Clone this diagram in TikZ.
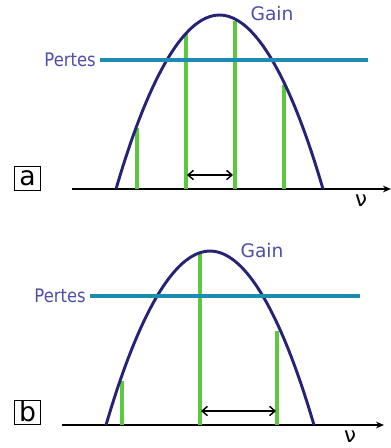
\documentclass[tikz,border=0pt]{standalone}
\usepackage{fontspec}
\setmainfont{DejaVu Sans}
\usetikzlibrary{arrows.meta,positioning}
\definecolor{gaincol}{RGB}{38,34,118}
\definecolor{pertecol}{RGB}{28,140,178}
\definecolor{modecol}{RGB}{92,200,62}
\definecolor{labcol}{RGB}{78,78,172}
\tikzset{
  gain/.style={
    line width=2.2pt,
    draw=gaincol
  },
  pertes/.style={
    line width=3pt,
    draw=pertecol
  },
  mode/.style={
    line width=2.4pt,
    draw=modecol
  },
  axe/.style={
    line width=1.1pt,
    -{Stealth[length=6pt,width=5pt]}
  },
  ecart/.style={
    line width=1.1pt,
    {Straight Barb[length=4pt,width=7pt]}-{Straight Barb[length=4pt,width=7pt]}
  },
  lab/.style={
    text = labcol,
    font = \fontsize{14}{16}\selectfont,
    inner sep=0pt
  },
  nu/.style={
    font = \fontsize{16}{18}\selectfont,
    inner sep=0pt
  },
  panel/.style={
    draw,
    line width=0.7pt,
    minimum width=20pt,
    minimum height=18pt,
    inner sep=0pt,
    font = \fontsize{20}{22}\selectfont
  }
}

\begin{document}
\begin{tikzpicture}[x=0.75pt,y=-0.75pt]
    \useasboundingbox (0,0) rectangle (390,448);
    % (a) quatre modes, ecart c/2L
    \coordinate (a0) at (72,189);
    \coordinate (a1) at (391,189);
    \draw[axe] (a0) -- (a1);
    \node[nu] (nua) at (361,201) {ν};
    \node[panel] (boxa) at (27.5,178) {a};
    \foreach \x/\t in {137/128, 186/34, 235/21, 284/85}{
        \draw[mode] (\x,189) -- (\x,\t);
    }
    \draw[gain] (116,189) parabola bend (219.5,15) (323,189);
    \draw[pertes] (100,60) -- (368,60);
    \node[lab, anchor=east, xscale=0.88] (pa) at (96,60) {Pertes};
    \node[lab] (ga) at (272,14) {Gain};
    \coordinate (ea) at (187,175);
    \coordinate (eb) at (233,175);
    \draw[ecart] (ea) -- (eb);
    % (b) cavite plus courte, un seul mode au-dessus des pertes
    \coordinate (b0) at (62,425);
    \coordinate (b1) at (384,425);
    \draw[axe] (b0) -- (b1);
    \node[nu] (nub) at (350,437) {ν};
    \node[panel] (boxb) at (27.5,412) {b};
    \foreach \x/\t in {122/381, 200/253, 277/331}{
        \draw[mode] (\x,425) -- (\x,\t);
    }
    \draw[gain] (106,425) parabola bend (210,251) (314,425);
    \draw[pertes] (90,296) -- (360,296);
    \node[lab, anchor=east, xscale=0.88] (pb) at (86,296) {Pertes};
    \node[lab] (gb) at (262,251) {Gain};
    \coordinate (ec) at (201,411);
    \coordinate (ed) at (276,411);
    \draw[ecart] (ec) -- (ed);
\end{tikzpicture}
\end{document}
